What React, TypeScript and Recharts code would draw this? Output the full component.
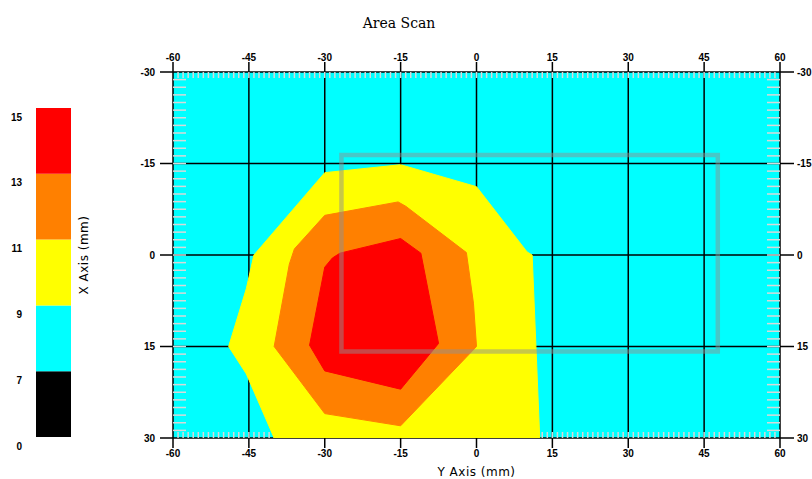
import {
  ScatterChart,
  Scatter,
  XAxis,
  YAxis,
  CartesianGrid,
  ReferenceLine,
  BarChart,
  Bar,
} from "recharts";

// axis ticks
const xTicks = [-60, -45, -30, -15, 0, 15, 30, 45, 60];
const yTicks = [-30, -15, 0, 15, 30];
const gridX = [-45, -30, -15, 0, 15, 30, 45];
const gridY = [-15, 0, 15];

// minor tick marks along the plot edges
const minorX: number[] = [];
for (let v = -59; v <= 59; v += 1) minorX.push(v);
const minorY: number[] = [];
for (let v = -28.75; v <= 28.75; v += 1.25) minorY.push(v);

// contour bands (x = Y Axis mm, y = X Axis mm)
const yellowZone = [
  { x: -49, y: 15 },
  { x: -45.5, y: 5.5 },
  { x: -44, y: 0 },
  { x: -30, y: -13.5 },
  { x: -15, y: -14.8 },
  { x: 0, y: -11.2 },
  { x: 10, y: -0.5 },
  { x: 11, y: 0 },
  { x: 12.5, y: 30 },
  { x: -40, y: 30 },
  { x: -45.5, y: 19.5 },
];

const orangeZone = [
  { x: -30, y: -6.5 },
  { x: -15.5, y: -8.7 },
  { x: -14, y: -8 },
  { x: -2, y: -0.4 },
  { x: -0.6, y: 7.9 },
  { x: 0, y: 15 },
  { x: -15, y: 28 },
  { x: -30, y: 26 },
  { x: -40, y: 15 },
  { x: -37, y: 1.5 },
  { x: -36, y: -1 },
];

const redZone = [
  { x: -27, y: -0.3 },
  { x: -15, y: -2.7 },
  { x: -11, y: -0.3 },
  { x: -7.5, y: 14.5 },
  { x: -15, y: 22 },
  { x: -30, y: 19 },
  { x: -33, y: 14.8 },
  { x: -30, y: 2 },
  { x: -28.5, y: 0.5 },
];

// scan window outline (corners)
const scanWindow = [
  { x: -26.7, y: -16.4 },
  { x: 47.7, y: -16.4 },
  { x: 47.7, y: 15.8 },
  { x: -26.7, y: 15.8 },
];

// colour scale, bottom to top
const scaleColors = ["#000000", "#00ffff", "#ffff00", "#ff8000", "#ff0000"];
const scaleLabels = ["0", "7", "9", "11", "13", "15"];
const scaleRow = [{ name: "scale", s0: 1, s1: 1, s2: 1, s3: 1, s4: 1 }];

const tickStyle = {
  fontSize: 10,
  fontWeight: 700,
  fontFamily: "'Liberation Sans', Arial, sans-serif",
  fill: "#000",
};
const labelStyle = {
  fontSize: 12,
  letterSpacing: 0.5,
  fontFamily: "'DejaVu Sans', sans-serif",
  fill: "#000",
};
const blackLine = { stroke: "#000", strokeWidth: 1.5 };
const minorLine = { stroke: "#d8d8d8", strokeWidth: 1.5 };

const noDot = () => <g />;
const noLabel = () => <g />;

function ColorScale() {
  return (
    <div style={{ position: "absolute", left: 0, top: 0 }}>
      <BarChart
        width={100}
        height={479}
        data={scaleRow}
        margin={{ top: 108, right: 29, bottom: 42, left: 0 }}
        barCategoryGap={0}
      >
        <XAxis dataKey="name" hide />
        <YAxis
          type="number"
          domain={[0, 5]}
          allowDataOverflow
          ticks={[0, 1, 2, 3, 4, 5]}
          interval={0}
          width={36}
          axisLine={false}
          tickLine={false}
          tickSize={0}
          tickMargin={14}
          tick={{ ...tickStyle, dy: 9 }}
          tickFormatter={(v: number) => scaleLabels[v]}
        />
        {scaleColors.map((c, i) => (
          <Bar
            key={c}
            dataKey={`s${i}`}
            stackId="a"
            fill={c}
            isAnimationActive={false}
          />
        ))}
      </BarChart>
    </div>
  );
}

export default function App() {
  return (
    <div
      style={{
        position: "absolute",
        left: 0,
        top: 0,
        width: 812,
        height: 479,
        background: "#fff",
        overflow: "hidden",
      }}
    >
      <div
        style={{
          position: "absolute",
          left: 0,
          top: 15,
          width: 798,
          textAlign: "center",
          fontFamily: "'DejaVu Serif', serif",
          fontSize: 14,
          lineHeight: "16px",
          color: "#000",
        }}
      >
        Area Scan
      </div>

      <ColorScale />

      <div style={{ position: "absolute", left: 0, top: 0 }}>
        <ScatterChart
          width={812}
          height={479}
          margin={{ top: 42, right: 0, bottom: 19, left: 133 }}
        >
          <CartesianGrid
            fill="#00ffff"
            fillOpacity={1}
            horizontal={false}
            vertical={false}
          />
          <XAxis
            dataKey="x"
            type="number"
            domain={[-60, 60]}
            allowDataOverflow
            ticks={xTicks}
            interval={0}
            height={22}
            tickSize={10}
            tickMargin={2}
            tick={tickStyle}
            axisLine={blackLine}
            tickLine={blackLine}
            label={{
              value: "Y Axis (mm)",
              position: "bottom",
              offset: 7,
              style: labelStyle,
            }}
          />
          <XAxis
            xAxisId="top"
            dataKey="x"
            orientation="top"
            type="number"
            domain={[-60, 60]}
            allowDataOverflow
            ticks={xTicks}
            interval={0}
            height={30}
            tickSize={10}
            tickMargin={1}
            tick={tickStyle}
            axisLine={blackLine}
            tickLine={blackLine}
          />
          <XAxis
            xAxisId="minorTop"
            dataKey="x"
            orientation="top"
            type="number"
            domain={[-60, 60]}
            allowDataOverflow
            ticks={minorX}
            interval={0}
            mirror
            height={6}
            tickSize={6}
            tick={noLabel}
            axisLine={false}
            tickLine={minorLine}
          />
          <XAxis
            xAxisId="minorBottom"
            dataKey="x"
            orientation="bottom"
            type="number"
            domain={[-60, 60]}
            allowDataOverflow
            ticks={minorX}
            interval={0}
            mirror
            height={6}
            tickSize={6}
            tick={noLabel}
            axisLine={false}
            tickLine={minorLine}
          />
          <YAxis
            dataKey="y"
            type="number"
            domain={[-30, 30]}
            allowDataOverflow
            reversed
            ticks={yTicks}
            interval={0}
            width={40}
            tickSize={13}
            tickMargin={5}
            tick={tickStyle}
            axisLine={blackLine}
            tickLine={blackLine}
            label={{
              value: "X Axis (mm)",
              angle: -90,
              position: "center",
              dx: -69,
              style: labelStyle,
            }}
          />
          <YAxis
            yAxisId="right"
            dataKey="y"
            orientation="right"
            type="number"
            domain={[-30, 30]}
            allowDataOverflow
            reversed
            ticks={yTicks}
            interval={0}
            width={32}
            tickSize={14}
            tickMargin={3}
            tick={tickStyle}
            axisLine={blackLine}
            tickLine={blackLine}
          />
          <YAxis
            yAxisId="minorLeft"
            dataKey="y"
            type="number"
            domain={[-30, 30]}
            allowDataOverflow
            reversed
            ticks={minorY}
            interval={0}
            mirror
            width={13}
            tickSize={13}
            tick={noLabel}
            axisLine={false}
            tickLine={minorLine}
          />
          <YAxis
            yAxisId="minorRight"
            dataKey="y"
            orientation="right"
            type="number"
            domain={[-30, 30]}
            allowDataOverflow
            reversed
            ticks={minorY}
            interval={0}
            mirror
            width={13}
            tickSize={13}
            tick={noLabel}
            axisLine={false}
            tickLine={minorLine}
          />

          <Scatter
            data={yellowZone}
            fill="#ffff00"
            line={{ fill: "#ffff00", stroke: "#ffff00", strokeWidth: 1 }}
            lineJointType="linearClosed"
            shape={noDot}
            isAnimationActive={false}
          />
          <Scatter
            data={orangeZone}
            fill="#ff8000"
            line={{ fill: "#ff8000", stroke: "#ff8000", strokeWidth: 1 }}
            lineJointType="linearClosed"
            shape={noDot}
            isAnimationActive={false}
          />
          <Scatter
            data={redZone}
            fill="#ff0000"
            line={{ fill: "#ff0000", stroke: "#ff0000", strokeWidth: 1 }}
            lineJointType="linearClosed"
            shape={noDot}
            isAnimationActive={false}
          />
          <Scatter
            data={scanWindow}
            xAxisId="top"
            yAxisId="right"
            fill="#909090"
            line={{
              fill: "none",
              stroke: "#909090",
              strokeOpacity: 0.5,
              strokeWidth: 4.5,
            }}
            lineJointType="linearClosed"
            shape={noDot}
            isAnimationActive={false}
          />
          <Scatter
            data={scanWindow}
            xAxisId="minorTop"
            yAxisId="minorLeft"
            shape={noDot}
            isAnimationActive={false}
          />
          <Scatter
            data={scanWindow}
            xAxisId="minorBottom"
            yAxisId="minorRight"
            shape={noDot}
            isAnimationActive={false}
          />

          {gridX.map((v) => (
            <ReferenceLine key={`gx${v}`} x={v} {...blackLine} />
          ))}
          {gridY.map((v) => (
            <ReferenceLine key={`gy${v}`} y={v} {...blackLine} />
          ))}
        </ScatterChart>
      </div>
    </div>
  );
}
